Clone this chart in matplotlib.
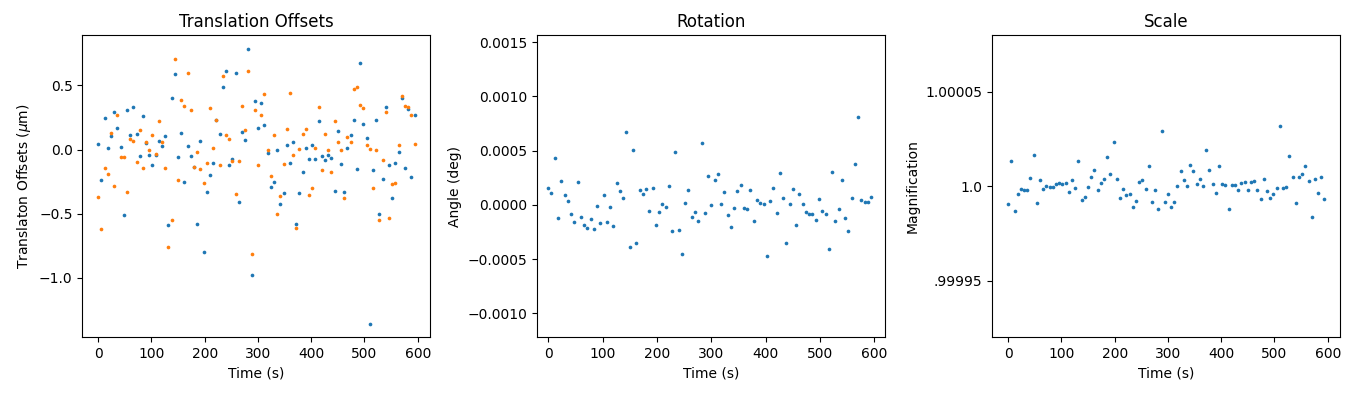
import matplotlib
matplotlib.use("Agg")
import matplotlib.pyplot as plt
from matplotlib.ticker import FixedLocator, FixedFormatter

time_s = [0, 6, 12, 18, 24, 30, 36, 42, 48, 54, 60, 66, 72, 78, 84, 90, 96, 102, 108, 114,
          120, 126, 132, 138, 144, 150, 156, 162, 168, 174, 180, 186, 192, 198, 204, 210, 216, 222, 228, 234,
          240, 246, 252, 258, 264, 270, 276, 282, 288, 294, 300, 306, 312, 318, 324, 330, 336, 342, 348, 354,
          360, 366, 372, 378, 384, 390, 396, 402, 408, 414, 420, 426, 432, 438, 444, 450, 456, 462, 468, 474,
          480, 486, 492, 498, 504, 510, 516, 522, 528, 534, 540, 546, 552, 558, 564, 570, 576, 582, 588, 594]

offset_x_um = [0.042, -0.24, 0.245, 0.01, 0.104, 0.292, 0.167, 0.018, -0.513, 0.307,
               0.112, 0.331, 0.12, -0.052, 0.26, 0.049, -0.044, -0.122, -0.044, 0.065,
               0.026, 0.104, -0.591, 0.401, 0.589, -0.06, 0.128, -0.255, 0.026, -0.052,
               -0.14, -0.583, 0.065, -0.802, -0.333, -0.2, -0.107, 0.229, 0.12, 0.487,
               0.612, -0.122, -0.076, 0.596, -0.411, 0.135, 0.073, 0.784, -0.982, 0.378,
               0.167, 0.362, 0.19, -0.029, -0.294, -0.255, -0.005, -0.427, -0.341, 0.034,
               -0.107, 0.057, -0.583, -0.341, -0.177, 0.01, -0.076, 0.034, -0.076, 0.221,
               -0.052, -0.083, -0.044, -0.068, -0.326, 0.143, -0.115, -0.333, 0.01, 0.112,
               0.229, -0.154, 0.674, 0.198, 0.089, -1.357, -0.161, 0.229, -0.505, -0.232,
               0.331, -0.122, -0.38, -0.107, -0.021, 0.401, -0.146, 0.315, -0.216, 0.268]

offset_y_um = [-0.372, -0.622, -0.146, -0.193, 0.128, -0.286, 0.268, -0.06, -0.06, -0.333,
               0.081, 0.065, -0.099, 0.151, -0.146, 0.057, -0.005, 0.112, -0.036, 0.221,
               0.057, -0.146, -0.763, -0.552, 0.706, -0.24, 0.385, 0.339, 0.596, 0.307,
               -0.138, -0.021, -0.154, -0.263, -0.107, 0.323, 0.010, 0.229, -0.122, 0.573,
               0.112, 0.081, -0.091, -0.349, -0.091, 0.339, 0.151, 0.612, -0.818, 0.307,
               -0.122, 0.268, 0.432, -0.005, -0.208, 0.112, -0.505, -0.365, -0.115, 0.159,
               0.44, -0.044, -0.615, 0.003, 0.12, 0.159, -0.357, -0.302, 0.01, 0.331,
               -0.161, 0.12, -0.005, -0.177, 0.221, 0.057, -0.005, -0.38, 0.096, 0.057,
               0.471, 0.487, 0.346, 0.323, 0.034, 0.003, -0.302, -0.005, -0.552, -0.083,
               0.292, -0.536, -0.271, -0.263, 0.034, 0.417, 0.339, 0.331, 0.268, 0.042]

rotation_deg = [0.000153, 0.000107, 0.000428, -0.000122, 0.000217, 0.0000887, 0.0000336, -0.0000856, -0.000159, 0.000208,
                -0.000113, -0.000187, -0.000214, -0.000131, -0.000223, -0.0000122, -0.000168, 0.0000887, -0.000159, -0.0000214,
                -0.000196, 0.000199, 0.000125, 0.0000612, 0.000667, -0.000388, 0.000502, -0.000352, 0.000135, 0.0000979,
                0.000144, -0.0000581, 0.000153, -0.000187, -0.0000673, 0.0000061, -0.0000214, 0.000171, -0.000242, 0.000483,
                -0.000232, -0.000453, 0.0000153, 0.000135, -0.000113, -0.0000673, -0.00015, 0.000566, -0.0000765, 0.000263,
                -0.000003, 0.000226, 0.000281, 0.0000061, 0.000116, -0.0000948, -0.000205, -0.0000306, 0.000125, 0.00018,
                -0.0000306, -0.0000398, 0.000135, -0.00015, 0.0000428, 0.0000153, 0.0000061, -0.000471, 0.0000336, 0.000153,
                -0.0000765, 0.000291, 0.0000612, -0.000352, 0.0000061, 0.000144, -0.000187, 0.0000979, 0.0000061, -0.0000673,
                -0.0000856, -0.0000856, -0.000141, 0.000052, -0.0000581, -0.0000856, -0.000407, 0.0003, -0.00015, -0.0000398,
                0.000226, -0.000122, -0.000242, 0.0000612, 0.000373, 0.000813, 0.0000428, 0.0000245, 0.0000245, 0.0000703]

magnification = [0.9999904, 1.0000133, 0.9999867, 0.9999957, 0.9999984, 0.9999979, 0.9999979, 1.0000043, 1.0000165, 0.9999910,
                 1.0000032, 0.9999984, 1.0000000, 0.9999995, 0.9999995, 1.0000011, 1.0000016, 1.0000011, 1.0000016, 0.9999968,
                 1.0000032, 0.9999989, 1.0000133, 0.9999926, 0.9999941, 0.9999995, 1.0000048, 1.0000085, 0.9999979, 1.0000016,
                 1.0000037, 1.0000154, 1.0000064, 1.0000234, 1.0000037, 0.9999936, 0.9999984, 0.9999952, 0.9999957, 0.9999888,
                 0.9999920, 1.0000021, 1.0000032, 0.9999984, 1.0000106, 0.9999915, 0.9999979, 0.9999878, 1.0000293, 0.9999915,
                 0.9999957, 0.9999888, 0.9999915, 1.0000000, 1.0000080, 1.0000032, 1.0000000, 1.0000112, 1.0000080, 1.0000011,
                 1.0000037, 1.0000000, 1.0000191, 1.0000085, 1.0000011, 0.9999963, 1.0000106, 1.0000011, 1.0000005, 0.9999878,
                 1.0000005, 1.0000005, 0.9999979, 1.0000016, 1.0000021, 0.9999979, 1.0000021, 1.0000027, 0.9999979, 0.9999931,
                 1.0000037, 0.9999973, 0.9999936, 0.9999957, 0.9999989, 1.0000319, 0.9999989, 0.9999995, 1.0000160, 1.0000048,
                 0.9999910, 1.0000048, 1.0000064, 1.0000106, 1.0000028, 0.9999835, 1.0000037, 0.9999963, 1.0000048, 0.9999931]

scale_ticks = [0.99995, 1.0, 1.00005]
scale_tick_labels = [".99995", "1.0", "1.00005"]

blue = "#1f77b4"
orange = "#ff7f0e"
ms = 7

fig = plt.figure(figsize=(13.61, 3.95), dpi=100)
lefts = [0.0605, 0.3948, 0.7291]
w, b, h = 0.2557, 0.1461, 0.7646
ax1 = fig.add_axes([lefts[0], b, w, h])
ax2 = fig.add_axes([lefts[1], b, w, h])
ax3 = fig.add_axes([lefts[2], b, w, h])

ax1.scatter(time_s, offset_x_um, s=ms, color=blue, linewidths=0)
ax1.scatter(time_s, offset_y_um, s=ms, color=orange, linewidths=0)
ax1.set_title("Translation Offsets")
ax1.set_xlabel("Time (s)")
ax1.set_ylabel(r"Translaton Offsets ($\mu$m)")

ax2.scatter(time_s, rotation_deg, s=ms, color=blue, linewidths=0)
ax2.set_title("Rotation")
ax2.set_xlabel("Time (s)")
ax2.set_ylabel("Angle (deg)")
ax2.set_xlim(-20, 620)
ax2.set_ylim(min(rotation_deg) - 0.00075, max(rotation_deg) + 0.00075)

ax3.scatter(time_s, magnification, s=ms, color=blue, linewidths=0)
ax3.set_title("Scale")
ax3.set_xlabel("Time (s)")
ax3.set_ylabel("Magnification")
ax3.set_ylim(0.99992, 1.00008)
ax3.yaxis.set_major_locator(FixedLocator(scale_ticks))
ax3.yaxis.set_major_formatter(FixedFormatter(scale_tick_labels))

for ax in (ax1, ax2, ax3):
    ax.set_xticks([0, 100, 200, 300, 400, 500, 600])

fig.savefig("out.png", dpi=100)
